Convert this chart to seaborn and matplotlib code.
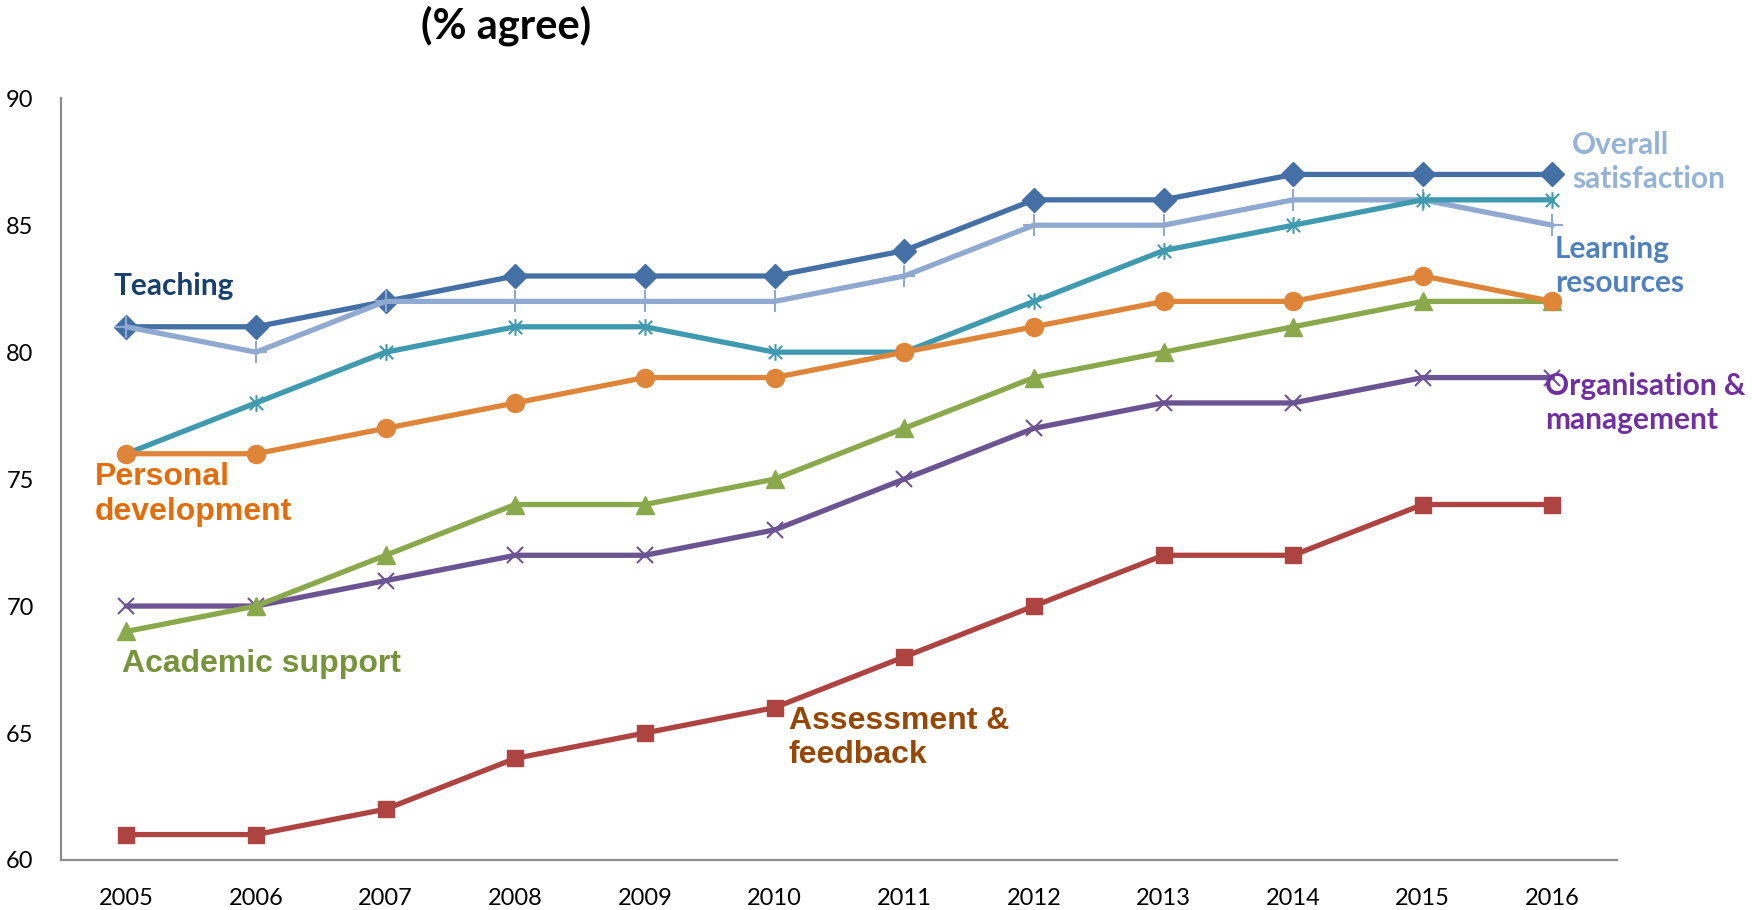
import numpy as np
import pandas as pd
import matplotlib
matplotlib.use("Agg")
import matplotlib.pyplot as plt
from matplotlib.path import Path
import seaborn as sns

years = [2005, 2006, 2007, 2008, 2009, 2010, 2011, 2012, 2013, 2014, 2015, 2016]

teaching = [81, 81, 82, 83, 83, 83, 84, 86, 86, 87, 87, 87]
overall_satisfaction = [81, 80, 82, 82, 82, 82, 83, 85, 85, 86, 86, 85]
learning_resources = [76, 78, 80, 81, 81, 80, 80, 82, 84, 85, 86, 86]
organisation_management = [70, 70, 71, 72, 72, 73, 75, 77, 78, 78, 79, 79]
academic_support = [69, 70, 72, 74, 74, 75, 77, 79, 80, 81, 82, 82]
personal_development = [76, 76, 77, 78, 79, 79, 80, 81, 82, 82, 83, 82]
assessment_feedback = [61, 61, 62, 64, 65, 66, 68, 70, 72, 72, 74, 74]

y_ticks = [60, 65, 70, 75, 80, 85, 90]

sns.set_theme(style="white")
plt.rcParams["font.family"] = ["Lato", "DejaVu Sans"]

# asterisk marker: an X crossed by a vertical bar
asterisk = Path(
    [(-1, -1), (1, 1), (-1, 1), (1, -1), (0, -1.25), (0, 1.25)],
    [Path.MOVETO, Path.LINETO, Path.MOVETO, Path.LINETO, Path.MOVETO, Path.LINETO],
)

series = [
    ("Teaching", teaching, "#4470A6", "D", 12, 1.0),
    ("Overall satisfaction", overall_satisfaction, "#90A9D0", "+", 16, 1.5),
    ("Learning resources", learning_resources, "#3F99AF", asterisk, 12, 1.5),
    ("Organisation & management", organisation_management, "#6C5493", "x", 12, 1.5),
    ("Academic support", academic_support, "#8AA84C", "^", 13, 1.0),
    ("Personal development", personal_development, "#DE853A", "o", 13, 1.0),
    ("Assessment & feedback", assessment_feedback, "#AD4442", "s", 12, 1.0),
]

fig = plt.figure(figsize=(17.52, 9.10), dpi=100)
ax = fig.add_axes([0.0351, 0.055, 0.888, 0.837])

for name, values, color, marker, msize, mew in series:
    df = pd.DataFrame({"year": years, "value": values})
    sns.lineplot(
        data=df, x="year", y="value", ax=ax, color=color, linewidth=3.8,
        marker=marker, markersize=msize, markeredgecolor=color,
        markerfacecolor=color, markeredgewidth=mew, legend=False,
    )

ax.set_xlim(2004.5, 2016.5)
ax.set_ylim(60, 90)
ax.set_xticks(years)
ax.set_xticklabels([str(y) for y in years])
ax.set_yticks(y_ticks)
ax.set_xlabel("")
ax.set_ylabel("")
ax.tick_params(axis="both", length=0, labelsize=17, colors="black")
ax.tick_params(axis="x", pad=20)
ax.tick_params(axis="y", pad=20)

for side in ["top", "right"]:
    ax.spines[side].set_visible(False)
for side in ["left", "bottom"]:
    ax.spines[side].set_color("#8C8C8C")
    ax.spines[side].set_linewidth(1.6)

calibri_like = ["Lato", "DejaVu Sans"]
arial_like = ["Liberation Sans", "DejaVu Sans"]

labels = [
    ("Teaching", 2004.9, 82.6, "#17406D", calibri_like, 21.5, 1.25),
    ("Personal\ndevelopment", 2004.76, 74.4, "#E46C0A", arial_like, 23, 1.2),
    ("Academic support", 2004.97, 67.7, "#77933C", arial_like, 23, 1.2),
    ("Assessment &\nfeedback", 2010.11, 64.8, "#974806", arial_like, 23, 1.2),
    ("Overall\nsatisfaction", 2016.15, 87.5, "#95B3D7", calibri_like, 21.5, 1.25),
    ("Learning\nresources", 2016.02, 83.4, "#4F81BD", calibri_like, 21.5, 1.25),
    ("Organisation &\nmanagement", 2015.94, 78.0, "#7030A0", calibri_like, 21.5, 1.25),
]
for text, x, y, color, fam, size, spacing in labels:
    ax.text(x, y, text, color=color, family=fam, fontsize=size, fontweight="bold",
            ha="left", va="center", linespacing=spacing, clip_on=False)

fig.text(0.289, 0.972, "(% agree)", ha="center", va="center", fontsize=30,
         fontweight="bold", family=calibri_like, color="black")

fig.savefig("out.png", dpi=100, facecolor="white")
